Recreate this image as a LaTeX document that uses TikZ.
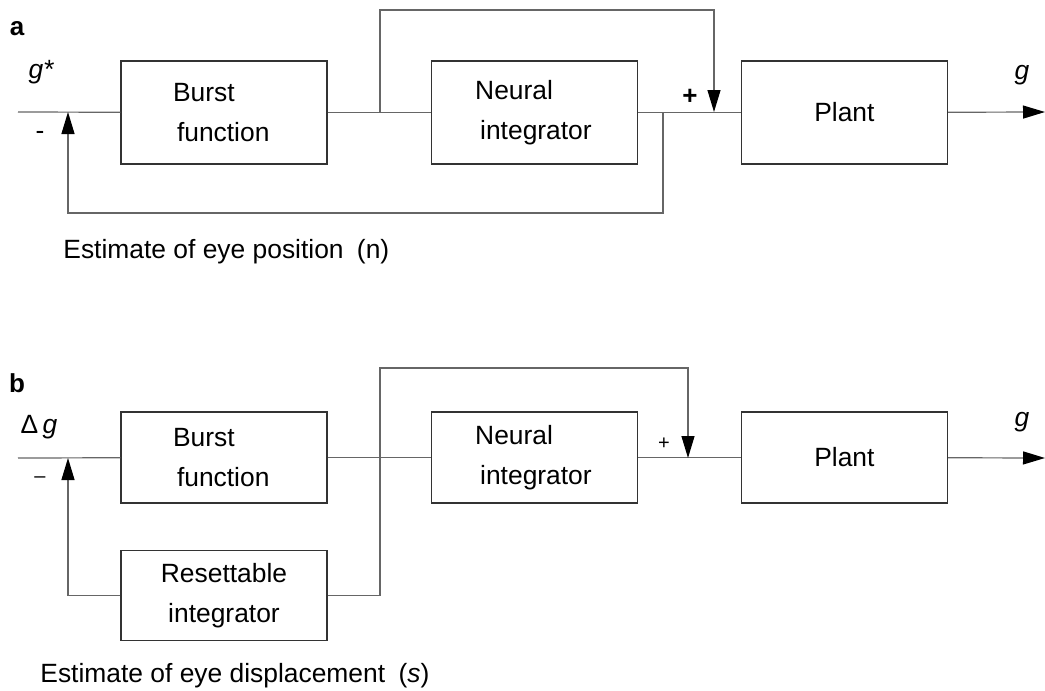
\documentclass[tikz,border=0pt]{standalone}
\usepackage{fontspec}
\setmainfont{Liberation Sans}
\usetikzlibrary{arrows.meta,positioning}

\begin{document}
\begin{tikzpicture}[x=0.5pt, y=-0.5pt, node distance=51.5pt,
  font=\fontsize{13.2}{20}\selectfont,
  block/.style = {draw=black!80, line width=0.6pt, minimum width=103pt},
  burstbox/.style = {block, align=left, inner xsep=26pt, text width=51pt},
  neurbox/.style = {block, align=left, inner xsep=22pt, text width=59pt},
  wire/.style = {draw=black!60, line width=0.6pt},
  tip/.style = {wire, -{Triangle[length=11pt,width=6.5pt,color=black]}},
  sign/.style = {inner sep=0pt}]
  \useasboundingbox (0,0) rectangle (1045,691);

  % panel a
  \node[font=\fontsize{13}{20}\selectfont\bfseries, sign] (labA) at (17,29) {a};
  \node[burstbox, minimum height=51.5pt] (burstA) at (224,112.5) {Burst\\\hspace*{2pt}function};
  \node[neurbox, minimum height=51.5pt, right=of burstA] (neurA) {Neural\\\hspace*{2.5pt}integrator};
  \node[block, minimum height=51.5pt, right=of neurA] (plantA) {Plant};
  \coordinate (inA) at (18,112);
  \coordinate (sumInA) at (68,112);
  \coordinate (splitA) at (380,112);
  \coordinate (tapA) at (663,112);
  \coordinate (sumA) at (714,112);
  \coordinate (topA) at (547,10);
  \coordinate (lowA) at (360,213);
  \coordinate (outA) at (1045,112);
  \draw[wire] (inA) -- (burstA);
  \draw[wire] (burstA) -- (neurA);
  \draw[wire] (neurA) -- (plantA);
  \draw[tip] (splitA) |- (topA) -| (sumA);
  \draw[tip] (tapA) |- (lowA) -| (sumInA);
  \draw[tip] (plantA) -- (outA);
  \node[sign] (gsA) at (41,72) {\itshape g*};
  \node[sign] (minA) at (40,135) {-};
  \node[sign, font=\fontsize{13}{20}\selectfont\bfseries] (plusA) at (690,97) {+};
  \node[sign] (gA) at (1022,75) {\itshape g};
  \node[sign, anchor=base west] (estA) at (63,258) {Estimate of eye position\hspace{3pt} (n)};

  % panel b
  \node[font=\fontsize{13}{20}\selectfont\bfseries, sign] (labB) at (17,383) {b};
  \node[burstbox, minimum height=45.5pt] (burstB) at (224,457.5) {Burst\\\hspace*{2pt}function};
  \node[neurbox, minimum height=45.5pt, right=of burstB] (neurB) {Neural\\\hspace*{2.5pt}integrator};
  \node[block, minimum height=45.5pt, right=of neurB] (plantB) {Plant};
  \node[block, align=center, minimum height=45pt, below=23pt of burstB] (resetB) {Resettable\\integrator};
  \coordinate (inB) at (18,458);
  \coordinate (sumInB) at (68,458);
  \coordinate (cornerB) at (380,368);
  \coordinate (sumB) at (688,458);
  \coordinate (outB) at (1045,458);
  \draw[wire] (inB) -- (burstB);
  \draw[wire] (burstB) -- (neurB);
  \draw[wire] (neurB) -- (plantB);
  \draw[tip] (resetB) -| (cornerB) -| (sumB);
  \draw[tip] (resetB) -| (sumInB);
  \draw[tip] (plantB) -- (outB);
  \node[sign] (dgB) at (39,427) {Δ\,\itshape g};
  \node[sign] (minB) at (40,480) {\fontsize{10}{12}\selectfont --};
  \node[sign, font=\fontsize{10}{12}\selectfont] (plusB) at (664,444) {+};
  \node[sign] (gB) at (1022,422) {\itshape g};
  \node[sign, anchor=base west] (estB) at (40,682) {Estimate of eye displacement\hspace{3pt} (\textit{s})};
\end{tikzpicture}
\end{document}
